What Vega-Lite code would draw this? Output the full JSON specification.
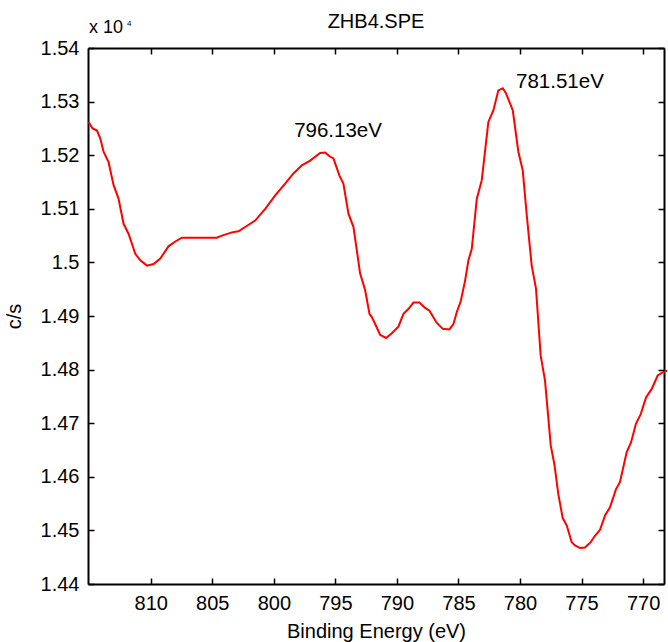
{
  "$schema": "https://vega.github.io/schema/vega-lite/v6.json",
  "width": 576,
  "height": 536,
  "autosize": {"type": "none"},
  "padding": {"left": 88, "top": 48, "right": 4, "bottom": 58},
  "background": "white",
  "config": {
    "view": {"stroke": null},
    "font": "Liberation Sans",
    "axis": {
      "domainColor": "black",
      "domainWidth": 2,
      "tickColor": "black",
      "tickWidth": 1.5,
      "tickSize": -6,
      "grid": false,
      "labelFont": "Liberation Sans",
      "labelFontSize": 20,
      "labelColor": "black",
      "titleFont": "Liberation Sans",
      "titleFontSize": 20,
      "titleFontWeight": "normal",
      "titleColor": "black"
    }
  },
  "datasets": {
    "spectrum": [
      {"eV": 815.05, "cps": 15262},
      {"eV": 814.73, "cps": 15250},
      {"eV": 814.37, "cps": 15246},
      {"eV": 814.10, "cps": 15231},
      {"eV": 813.83, "cps": 15206},
      {"eV": 813.43, "cps": 15187},
      {"eV": 813.02, "cps": 15144},
      {"eV": 812.62, "cps": 15119},
      {"eV": 812.21, "cps": 15072},
      {"eV": 811.80, "cps": 15053},
      {"eV": 811.26, "cps": 15016},
      {"eV": 810.85, "cps": 15004},
      {"eV": 810.31, "cps": 14994},
      {"eV": 809.77, "cps": 14997},
      {"eV": 809.23, "cps": 15007},
      {"eV": 808.56, "cps": 15030},
      {"eV": 808.01, "cps": 15039},
      {"eV": 807.47, "cps": 15046},
      {"eV": 806.00, "cps": 15046},
      {"eV": 804.63, "cps": 15046},
      {"eV": 804.22, "cps": 15050},
      {"eV": 803.41, "cps": 15056},
      {"eV": 802.87, "cps": 15058},
      {"eV": 802.33, "cps": 15066},
      {"eV": 801.52, "cps": 15078},
      {"eV": 800.70, "cps": 15100},
      {"eV": 799.89, "cps": 15125},
      {"eV": 799.08, "cps": 15147},
      {"eV": 798.41, "cps": 15166},
      {"eV": 797.72, "cps": 15181},
      {"eV": 797.05, "cps": 15190},
      {"eV": 796.24, "cps": 15204},
      {"eV": 795.83, "cps": 15205},
      {"eV": 795.48, "cps": 15198},
      {"eV": 795.16, "cps": 15194},
      {"eV": 794.67, "cps": 15162},
      {"eV": 794.35, "cps": 15147},
      {"eV": 793.94, "cps": 15091},
      {"eV": 793.53, "cps": 15066},
      {"eV": 792.99, "cps": 14979},
      {"eV": 792.58, "cps": 14948},
      {"eV": 792.23, "cps": 14904},
      {"eV": 792.04, "cps": 14898},
      {"eV": 791.77, "cps": 14885},
      {"eV": 791.37, "cps": 14865},
      {"eV": 790.88, "cps": 14859},
      {"eV": 790.42, "cps": 14868},
      {"eV": 789.88, "cps": 14880},
      {"eV": 789.47, "cps": 14904},
      {"eV": 789.07, "cps": 14913},
      {"eV": 788.66, "cps": 14925},
      {"eV": 788.17, "cps": 14925},
      {"eV": 787.71, "cps": 14915},
      {"eV": 787.36, "cps": 14910},
      {"eV": 786.76, "cps": 14887},
      {"eV": 786.27, "cps": 14876},
      {"eV": 785.74, "cps": 14875},
      {"eV": 785.41, "cps": 14885},
      {"eV": 785.14, "cps": 14907},
      {"eV": 784.81, "cps": 14928},
      {"eV": 784.46, "cps": 14966},
      {"eV": 784.19, "cps": 15004},
      {"eV": 783.92, "cps": 15025},
      {"eV": 783.51, "cps": 15119},
      {"eV": 783.11, "cps": 15153},
      {"eV": 782.57, "cps": 15262},
      {"eV": 782.16, "cps": 15284},
      {"eV": 781.76, "cps": 15321},
      {"eV": 781.40, "cps": 15325},
      {"eV": 781.13, "cps": 15315},
      {"eV": 780.59, "cps": 15284},
      {"eV": 780.13, "cps": 15206},
      {"eV": 779.78, "cps": 15172},
      {"eV": 779.45, "cps": 15088},
      {"eV": 779.05, "cps": 14994},
      {"eV": 778.70, "cps": 14951},
      {"eV": 778.32, "cps": 14826},
      {"eV": 777.97, "cps": 14780},
      {"eV": 777.50, "cps": 14658},
      {"eV": 777.21, "cps": 14624},
      {"eV": 776.89, "cps": 14568},
      {"eV": 776.53, "cps": 14523},
      {"eV": 776.20, "cps": 14509},
      {"eV": 775.80, "cps": 14478},
      {"eV": 775.53, "cps": 14472},
      {"eV": 775.12, "cps": 14467},
      {"eV": 774.72, "cps": 14468},
      {"eV": 774.26, "cps": 14478},
      {"eV": 773.91, "cps": 14490},
      {"eV": 773.50, "cps": 14501},
      {"eV": 773.09, "cps": 14528},
      {"eV": 772.69, "cps": 14543},
      {"eV": 772.20, "cps": 14577},
      {"eV": 771.88, "cps": 14590},
      {"eV": 771.33, "cps": 14646},
      {"eV": 770.98, "cps": 14664},
      {"eV": 770.58, "cps": 14699},
      {"eV": 770.19, "cps": 14717},
      {"eV": 769.76, "cps": 14748},
      {"eV": 769.30, "cps": 14764},
      {"eV": 768.81, "cps": 14789},
      {"eV": 768.41, "cps": 14795},
      {"eV": 768.04, "cps": 14798}
    ],
    "peaks": [
      {"eV": 798.35, "cps": 15246, "label": "796.13eV"},
      {"eV": 780.32, "cps": 15336, "label": "781.51eV"}
    ],
    "corner": [
      {"eV": 815.1, "cps": 15400}
    ],
    "heading": [
      {"eV": 791.7, "cps": 15400, "label": "ZHB4.SPE"}
    ]
  },
  "layer": [
    {
      "data": {"name": "spectrum"},
      "mark": {"type": "line", "color": "#ff0000", "strokeWidth": 2},
      "encoding": {
        "x": {
          "field": "eV", "type": "quantitative",
          "scale": {"domain": [768.3, 815.1], "reverse": true, "nice": false, "zero": false},
          "axis": {
            "orient": "bottom",
            "values": [810, 805, 800, 795, 790, 785, 780, 775, 770],
            "labelPadding": 15,
            "title": "Binding Energy (eV)",
            "titlePadding": 8
          }
        },
        "y": {
          "field": "cps", "type": "quantitative",
          "scale": {"domain": [14400, 15400], "nice": false, "zero": false},
          "axis": {
            "orient": "left",
            "values": [14400, 14500, 14600, 14700, 14800, 14900, 15000, 15100, 15200, 15300, 15400],
            "labelExpr": "format(datum.value / 10000, '.3~g')",
            "labelPadding": 15,
            "title": "c/s",
            "titlePadding": 16
          }
        }
      }
    },
    {
      "data": {"name": "peaks"},
      "mark": {"type": "text", "align": "left", "baseline": "middle", "fontSize": 20.5, "color": "black", "font": "Liberation Sans"},
      "encoding": {
        "x": {
          "field": "eV", "type": "quantitative",
          "scale": {"domain": [768.3, 815.1], "reverse": true, "nice": false, "zero": false},
          "axis": {
            "orient": "top",
            "values": [810, 805, 800, 795, 790, 785, 780, 775, 770],
            "labels": false,
            "title": null
          }
        },
        "y": {
          "field": "cps", "type": "quantitative",
          "scale": {"domain": [14400, 15400], "nice": false, "zero": false},
          "axis": {
            "orient": "right",
            "values": [14400, 14500, 14600, 14700, 14800, 14900, 15000, 15100, 15200, 15300, 15400],
            "labels": false,
            "title": null
          }
        },
        "text": {"field": "label", "type": "nominal"}
      }
    },
    {
      "data": {"name": "heading"},
      "mark": {"type": "text", "align": "center", "baseline": "alphabetic", "fontSize": 20, "color": "black", "font": "Liberation Sans", "dy": -20},
      "encoding": {
        "x": {"field": "eV", "type": "quantitative", "axis": null},
        "y": {"field": "cps", "type": "quantitative", "axis": null},
        "text": {"field": "label", "type": "nominal"}
      }
    },
    {
      "data": {"name": "corner"},
      "mark": {"type": "text", "text": "x 10", "align": "left", "baseline": "alphabetic", "fontSize": 18, "color": "black", "font": "Liberation Sans", "dx": 1, "dy": -15},
      "encoding": {
        "x": {"field": "eV", "type": "quantitative", "axis": null},
        "y": {"field": "cps", "type": "quantitative", "axis": null}
      }
    },
    {
      "data": {"name": "corner"},
      "mark": {"type": "text", "text": "4", "align": "left", "baseline": "alphabetic", "fontSize": 8, "color": "black", "font": "Liberation Sans", "dx": 39, "dy": -22},
      "encoding": {
        "x": {"field": "eV", "type": "quantitative", "axis": null},
        "y": {"field": "cps", "type": "quantitative", "axis": null}
      }
    }
  ],
  "resolve": {"axis": {"x": "independent", "y": "independent"}}
}
